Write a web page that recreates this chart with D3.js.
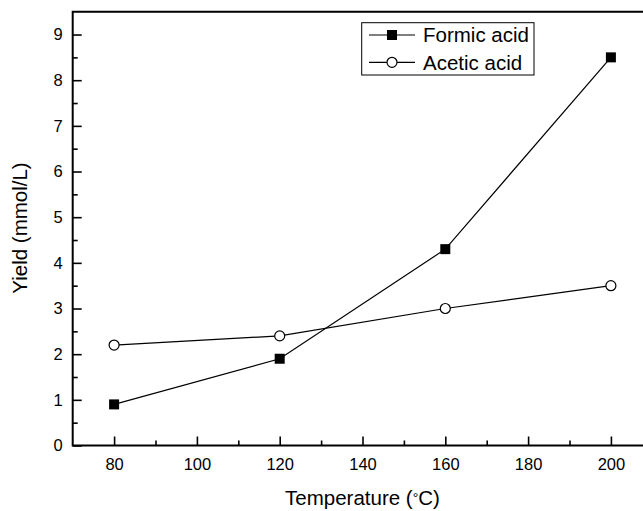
<!DOCTYPE html>
<html>
<head>
<meta charset="utf-8">
<script src="https://cdn.jsdelivr.net/npm/d3@7"></script>
<style>
  body { margin: 0; background: #fff; }
  svg { display: block; font-family: "Liberation Sans", Arial, sans-serif; }
</style>
</head>
<body>
<svg width="643" height="511"></svg>
<script>
// data
var temps = [80, 120, 160, 200];
var formic = [0.9, 1.9, 4.3, 8.5];
var acetic = [2.2, 2.4, 3.0, 3.5];
var xTicks = [80, 100, 120, 140, 160, 180, 200];
var yTicks = [0, 1, 2, 3, 4, 5, 6, 7, 8, 9];

var svg = d3.select("svg");
var margin = {top: 11.7, left: 72.7};
var plotBottom = 445.5;

// x range runs past the right edge, the original picture is cropped there
var x = d3.scaleLinear().domain([70, 210]).range([margin.left, margin.left + 579.6]);
var y = d3.scaleLinear().domain([0, 9.5]).range([plotBottom, margin.top]);

var series = [
  {name: "Formic acid", values: formic, filled: true},
  {name: "Acetic acid", values: acetic, filled: false}
];

// axes
svg.append("g")
  .attr("transform", "translate(0," + plotBottom + ")")
  .call(d3.axisBottom(x).tickValues(xTicks).tickSize(-9).tickPadding(13).tickFormat(d3.format("d")));
svg.append("g")
  .attr("transform", "translate(" + margin.left + ",0)")
  .call(d3.axisLeft(y).tickValues(yTicks).tickSize(-9).tickPadding(10));

// minor ticks
svg.append("g")
  .attr("transform", "translate(0," + plotBottom + ")")
  .call(d3.axisBottom(x).tickValues(d3.range(90, 210, 20)).tickSize(-5).tickFormat(""));
svg.append("g")
  .attr("transform", "translate(" + margin.left + ",0)")
  .call(d3.axisLeft(y).tickValues(d3.range(0.5, 9.5, 1)).tickSize(-5).tickFormat(""));

svg.selectAll(".domain").remove();
svg.selectAll(".tick line").attr("stroke", "#000").attr("stroke-width", 1.6);
svg.selectAll(".tick text").attr("font-size", 16.5).attr("fill", "#000")
  .attr("font-family", "'Liberation Sans', Arial, sans-serif");

// frame (bottom, left, top)
svg.append("path")
  .attr("d", "M" + x(210) + "," + y(0) + "H" + x(70) + "V" + y(9.5) + "H" + x(210))
  .attr("fill", "none")
  .attr("stroke", "#000")
  .attr("stroke-width", 2);

var line = d3.line()
  .x(function(d, i) { return x(temps[i]); })
  .y(function(d) { return y(d); });

series.forEach(function(s) {
  svg.append("path")
    .datum(s.values)
    .attr("d", line)
    .attr("fill", "none")
    .attr("stroke", "#000")
    .attr("stroke-width", 1.2);
});

series.forEach(function(s) {
  if (s.filled) {
    svg.selectAll(null)
      .data(s.values)
      .enter().append("rect")
        .attr("x", function(d, i) { return x(temps[i]) - 5; })
        .attr("y", function(d) { return y(d) - 5; })
        .attr("width", 10)
        .attr("height", 10)
        .attr("fill", "#000");
  } else {
    svg.selectAll(null)
      .data(s.values)
      .enter().append("circle")
        .attr("cx", function(d, i) { return x(temps[i]); })
        .attr("cy", function(d) { return y(d); })
        .attr("r", 5)
        .attr("fill", "#fff")
        .attr("stroke", "#000")
        .attr("stroke-width", 1.2);
  }
});

// axis titles
svg.append("text")
  .attr("x", 362.5)
  .attr("y", 505)
  .attr("text-anchor", "middle")
  .attr("font-size", 20.5)
  .text("Temperature (")
  .append("tspan").attr("font-size", 14).attr("dy", -2).text("°")
  .select(function() { return this.parentNode; })
  .append("tspan").attr("dy", 2).text("C)");

svg.append("text")
  .attr("transform", "translate(27,228) rotate(-90)")
  .attr("text-anchor", "middle")
  .attr("font-size", 20.5)
  .text("Yield (mmol/L)");

// legend
var legend = svg.append("g");
legend.append("rect")
  .attr("x", 361.7)
  .attr("y", 22.7)
  .attr("width", 172.3)
  .attr("height", 52.3)
  .attr("fill", "#fff")
  .attr("stroke", "#000")
  .attr("stroke-width", 1);

var item = legend.selectAll("g")
  .data(series)
  .enter().append("g")
    .attr("transform", function(d, i) { return "translate(369," + (35 + i * 27.3) + ")"; });

item.append("line")
  .attr("x1", 0).attr("x2", 46)
  .attr("stroke", "#000").attr("stroke-width", 1.2);

item.each(function(d) {
  var g = d3.select(this);
  if (d.filled) {
    g.append("rect").attr("x", 18).attr("y", -5).attr("width", 10).attr("height", 10).attr("fill", "#000");
  } else {
    g.append("circle").attr("cx", 23).attr("r", 5).attr("fill", "#fff").attr("stroke", "#000").attr("stroke-width", 1.2);
  }
});

item.append("text")
  .attr("x", 54)
  .attr("dy", "0.36em")
  .attr("font-size", 20.5)
  .text(function(d) { return d.name; });
</script>
</body>
</html>
